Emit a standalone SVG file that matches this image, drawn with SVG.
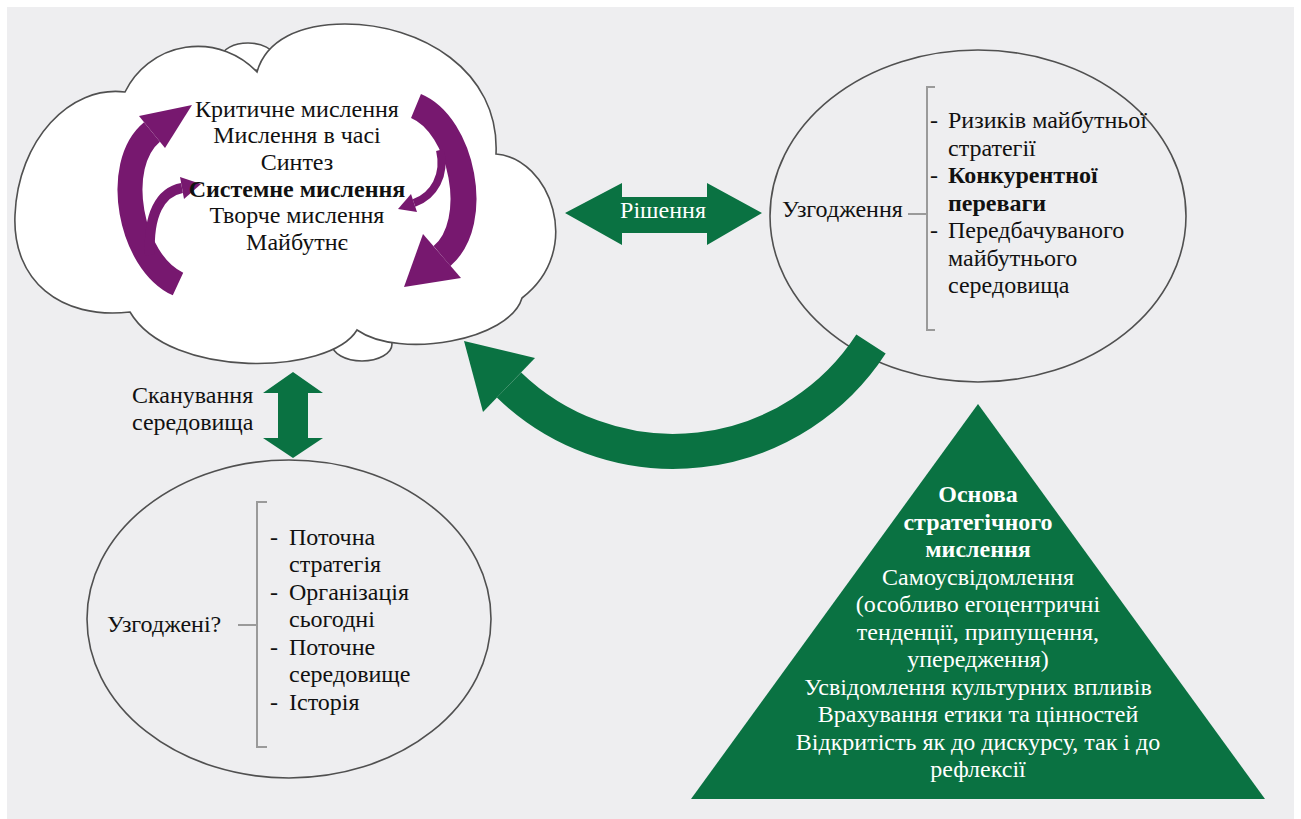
<svg xmlns="http://www.w3.org/2000/svg" width="1301" height="819" viewBox="0 0 1301 819">
<style>
.t{font-family:"Liberation Serif","Times New Roman",serif;font-size:24px;fill:#111}
.b{font-weight:bold}
.w{fill:#fff}
.c{text-anchor:middle}
.ol{fill:none;stroke:#505050;stroke-width:1.6}
.cl{fill:#fff;stroke:#505050;stroke-width:1.6}
.br{fill:none;stroke:#9a9a9a;stroke-width:2}
.g{fill:#0a7242}
.gs{fill:none;stroke:#0a7242}
.p{fill:#77186f}
.ps{fill:none;stroke:#77186f}
</style>
<rect width="1301" height="819" fill="#fff"/>
<rect x="7" y="7" width="1287" height="812" fill="#eeeef0"/>

<g id="cloud">
<ellipse class="cl" cx="248" cy="57" rx="26" ry="14"/>
<ellipse class="cl" cx="362" cy="344" rx="30" ry="17"/>
<path class="cl" d="M125 92 A81 81 0 0 1 257 72 C266 40 300 24 345 24 C420 24 500 70 496 154 C550 158 585 250 522 298 C510 340 400 360 357 330 C330 375 170 380 130 312 C60 320 12 280 15 215 C18 140 70 85 125 92 Z"/>
<path class="ps" stroke-width="25" d="M178 284 C130 262 112 165 152 132"/>
<polygon class="p" points="192,105 139,116 165,148"/>
<path class="ps" stroke-width="10" d="M150 255 C148 215 160 192 182 188"/>
<polygon class="p" points="201,184 180,177 184,199"/>
<path class="ps" stroke-width="26" d="M416 106 C462 125 482 222 442 256"/>
<polygon class="p" points="404,287 423,234 461,278"/>
<path class="ps" stroke-width="8" d="M440 150 C446 175 434 196 414 203"/>
<polygon class="p" points="398,209 411,194 417,212"/>
<text class="t c" x="297" y="117">Критичне мислення</text>
<text class="t c" x="297" y="143">Мислення в часі</text>
<text class="t c" x="297" y="170">Синтез</text>
<text class="t c b" x="297" y="197">Системне мислення</text>
<text class="t c" x="297" y="223">Творче мислення</text>
<text class="t c" x="297" y="250">Майбутнє</text>
</g>

<g id="future">
<ellipse class="ol" cx="978" cy="216" rx="208" ry="166"/>
<text class="t" x="782" y="217">Узгодження</text>
<path class="br" d="M908 214 H927 M935 87 H927 V330 H935"/>
<text class="t" x="930" y="128">-</text>
<text class="t" x="948" y="128">Ризиків майбутньої</text>
<text class="t" x="948" y="156">стратегії</text>
<text class="t" x="930" y="183">-</text>
<text class="t b" x="948" y="183">Конкурентної</text>
<text class="t b" x="948" y="211">переваги</text>
<text class="t" x="930" y="238">-</text>
<text class="t" x="948" y="238">Передбачуваного</text>
<text class="t" x="948" y="266">майбутнього</text>
<text class="t" x="948" y="293">середовища</text>
</g>

<g id="current">
<ellipse class="ol" cx="289" cy="619" rx="202" ry="159"/>
<text class="t" x="107" y="632">Узгоджені?</text>
<path class="br" d="M238 625 H257 M267 502 H257 V747 H267"/>
<text class="t" x="270" y="545">-</text>
<text class="t" x="289" y="545">Поточна</text>
<text class="t" x="289" y="572">стратегія</text>
<text class="t" x="270" y="600">-</text>
<text class="t" x="289" y="600">Організація</text>
<text class="t" x="289" y="627">сьогодні</text>
<text class="t" x="270" y="655">-</text>
<text class="t" x="289" y="655">Поточне</text>
<text class="t" x="289" y="682">середовище</text>
<text class="t" x="270" y="710">-</text>
<text class="t" x="289" y="710">Історія</text>
</g>

<g id="foundation">
<polygon class="g" points="978,404 691,799 1265,799"/>
<text class="t c w b" x="978" y="502">Основа</text>
<text class="t c w b" x="978" y="529.5">стратегічного</text>
<text class="t c w b" x="978" y="557">мислення</text>
<text class="t c w" x="978" y="584.5">Самоусвідомлення</text>
<text class="t c w" x="978" y="612">(особливо егоцентричні</text>
<text class="t c w" x="978" y="639.5">тенденції, припущення,</text>
<text class="t c w" x="978" y="667">упередження)</text>
<text class="t c w" x="978" y="694.5">Усвідомлення культурних впливів</text>
<text class="t c w" x="978" y="722">Врахування етики та цінностей</text>
<text class="t c w" x="978" y="749.5">Відкритість як до дискурсу, так і до</text>
<text class="t c w" x="978" y="777">рефлексії</text>
</g>

<g id="connectors">
<polygon class="g" points="565,213 622,183 622,197 707,197 707,183 762,213 707,245 707,233 622,233 622,245"/>
<text class="t c w" x="663" y="218">Рішення</text>
<polygon class="g" points="293,372 323,393 308,393 308,438 323,438 293,458 263,438 278,438 278,393 263,393"/>
<text class="t" x="132" y="403">Сканування</text>
<text class="t" x="132" y="430">середовища</text>
<path class="gs" stroke-width="35" d="M871 344 A236 236 0 0 1 509 385"/>
<polygon class="g" points="464,341 535,358 483,412"/>
</g>
</svg>
